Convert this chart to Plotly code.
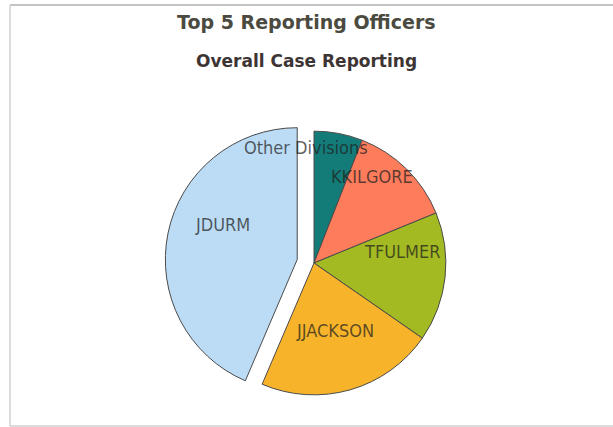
import numpy as np
import plotly.graph_objects as go

# Case counts per reporter, in clockwise order from 12 o'clock
labels = ["Other Divisions", "KKILGORE", "TFULMER", "JJACKSON", "JDURM"]
values = [6, 13, 16, 22, 44]
colors = ["#147c78", "#fd7c5c", "#a4ba22", "#f7b42a", "#bcdcf5"]
pulls = [0, 0, 0, 0, 0.13]

W, H = 613, 427
cx, cy = 314, 263          # pie centre in pixels
half = 149                 # half of the square pie domain in pixels

fig = go.Figure(
    go.Pie(
        labels=labels,
        values=values,
        sort=False,
        direction="clockwise",
        rotation=0,
        pull=pulls,
        marker=dict(colors=colors, line=dict(color="#4a4a4a", width=1)),
        textinfo="none",
        hoverinfo="label+value+percent",
        showlegend=False,
        domain=dict(
            x=[(cx - half) / W, (cx + half) / W],
            y=[(H - cy - half) / H, (H - cy + half) / H],
        ),
    )
)

# Slice labels: drawn above all slices, placed along each slice's mid angle
radius = half / (1 + max(pulls))
vals = np.asarray(values, dtype=float)
ends = np.cumsum(vals) / vals.sum()
mids = (ends - vals / vals.sum() / 2) * 2 * np.pi
label_r = 0.68
label_lift = 20
nudge = {"Other Divisions": (-25, -7), "KKILGORE": (-5, -3), "TFULMER": (-1, -1),
         "JJACKSON": (-4, 1), "JDURM": (13, 3)}

label_notes = []
for name, ang, p in zip(labels, mids, pulls):
    sx, sy = np.sin(ang), -np.cos(ang)
    px = cx + radius * (p + label_r) * sx + nudge[name][0]
    py = cy + radius * (p + label_r) * sy - label_lift + nudge[name][1]
    label_notes.append(dict(
        text=name, x=px / W, y=1 - py / H, xref="paper", yref="paper",
        xanchor="center", yanchor="middle", showarrow=False,
        font=dict(family="DejaVu Sans Condensed, DejaVu Sans", size=18,
                  color="rgba(30,30,30,0.72)"),
    ))

fig.update_layout(
    width=W,
    height=H,
    margin=dict(l=0, r=0, t=0, b=0),
    paper_bgcolor="#ffffff",
    annotations=[
        dict(
            text="<b>Top 5 Reporting Officers</b>",
            x=0.5, y=1 - 22 / H, xref="paper", yref="paper",
            xanchor="center", yanchor="middle", showarrow=False,
            font=dict(family="DejaVu Sans", size=19, color="#4b4a40"),
        ),
        dict(
            text="<b>Overall Case Reporting</b>",
            x=0.5, y=1 - 61 / H, xref="paper", yref="paper",
            xanchor="center", yanchor="middle", showarrow=False,
            font=dict(family="DejaVu Sans", size=17, color="#3d3434"),
        ),
    ] + label_notes,
    shapes=[
        # thin frame on the top, left and bottom edges
        dict(type="line", xref="paper", yref="paper",
             x0=10 / W, x1=1, y0=1 - 5 / H, y1=1 - 5 / H,
             line=dict(color="#c4c4c4", width=2)),
        dict(type="line", xref="paper", yref="paper",
             x0=10 / W, x1=10 / W, y0=1 / H, y1=1 - 5 / H,
             line=dict(color="#d0d0d0", width=1.5)),
        dict(type="line", xref="paper", yref="paper",
             x0=10 / W, x1=1, y0=1 / H, y1=1 / H,
             line=dict(color="#d0d0d0", width=1.5)),
    ],
)

fig.write_html("out.html")
